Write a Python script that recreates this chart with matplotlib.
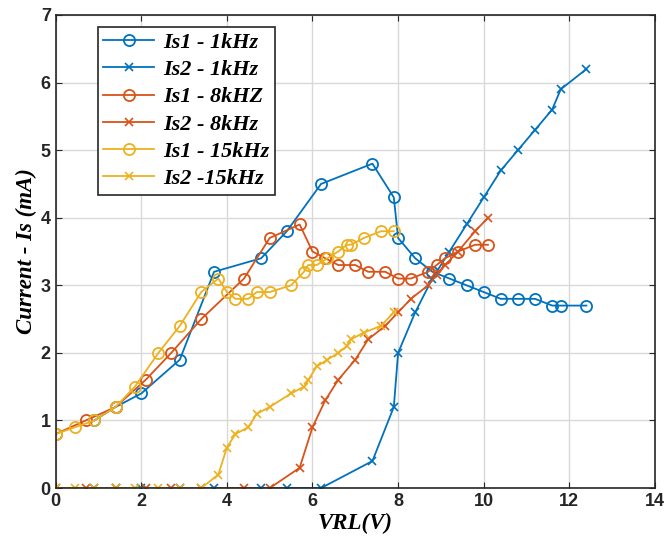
import matplotlib
matplotlib.use('Agg')
import matplotlib.pyplot as plt

x_1k = [0.9, 1.4, 2.0, 2.9, 3.7, 4.8, 5.4, 6.2, 7.4, 7.9, 8.0, 8.4, 8.8, 9.2,
        9.6, 10.0, 10.4, 10.8, 11.2, 11.6, 11.8, 12.4]
is1_1k = [1.0, 1.2, 1.4, 1.9, 3.2, 3.4, 3.8, 4.5, 4.8, 4.3, 3.7, 3.4, 3.2, 3.1,
          3.0, 2.9, 2.8, 2.8, 2.8, 2.7, 2.7, 2.7]
is2_1k = [0, 0, 0, 0, 0, 0, 0, 0, 0.4, 1.2, 2.0, 2.6, 3.1, 3.5,
          3.9, 4.3, 4.7, 5.0, 5.3, 5.6, 5.9, 6.2]

x_8k = [0, 0.7, 1.4, 2.1, 2.7, 3.4, 4.4, 5.0, 5.7, 6.0, 6.3, 6.6, 7.0, 7.3,
        7.7, 8.0, 8.3, 8.7, 8.9, 9.1, 9.4, 9.8, 10.1]
is1_8k = [0.8, 1.0, 1.2, 1.6, 2.0, 2.5, 3.1, 3.7, 3.9, 3.5, 3.4, 3.3, 3.3, 3.2,
          3.2, 3.1, 3.1, 3.2, 3.3, 3.4, 3.5, 3.6, 3.6]
is2_8k = [0, 0, 0, 0, 0, 0, 0, 0, 0.3, 0.9, 1.3, 1.6, 1.9, 2.2,
          2.4, 2.6, 2.8, 3.0, 3.15, 3.3, 3.5, 3.8, 4.0]

x_15k = [0, 0.45, 0.9, 1.4, 1.85, 2.4, 2.9, 3.4, 3.8, 4.0, 4.2, 4.5, 4.7, 5.0,
         5.5, 5.8, 5.9, 6.1, 6.35, 6.6, 6.8, 6.9, 7.2, 7.6, 7.9]
is1_15k = [0.8, 0.9, 1.0, 1.2, 1.5, 2.0, 2.4, 2.9, 3.1, 2.9, 2.8, 2.8, 2.9, 2.9,
           3.0, 3.2, 3.3, 3.3, 3.4, 3.5, 3.6, 3.6, 3.7, 3.8, 3.8]
is2_15k = [0, 0, 0, 0, 0, 0, 0, 0, 0.2, 0.6, 0.8, 0.9, 1.1, 1.2,
           1.4, 1.5, 1.6, 1.8, 1.9, 2.0, 2.1, 2.2, 2.3, 2.4, 2.6]

labels = ['Is1 - 1kHz', 'Is2 - 1kHz', 'Is1 - 8kHZ', 'Is2 - 8kHz',
          'Is1 - 15kHz', 'Is2 -15kHz']
colors = ['#0072BD', '#D95319', '#EDB120']

fig = plt.figure(figsize=(6.71, 5.54), dpi=100)
ax = fig.add_axes([0.083, 0.119, 0.893, 0.854])

series = [(x_1k, is1_1k, is2_1k), (x_8k, is1_8k, is2_8k), (x_15k, is1_15k, is2_15k)]
for i, (xs, s1, s2) in enumerate(series):
    c = colors[i]
    ax.plot(xs, s1, color=c, lw=1.3, marker='o', ms=8, mfc='none', mew=1.3,
            label=labels[2 * i])
    ax.plot(xs, s2, color=c, lw=1.3, marker='x', ms=6, mew=1.2,
            label=labels[2 * i + 1])

ax.set_xlim(0, 14)
ax.set_ylim(0, 7)
ax.set_xticks(range(0, 15, 2))
ax.set_yticks(range(0, 8))
ax.grid(True, color='#d9d9d9', lw=1)
ax.set_axisbelow(True)
ax.tick_params(direction='in', top=True, right=True, length=4, colors='#262626',
               labelsize=13)
for lab in ax.get_xticklabels() + ax.get_yticklabels():
    lab.set_fontweight('bold')
    lab.set_fontfamily('Liberation Sans')
for sp in ax.spines.values():
    sp.set_color('#262626')
    sp.set_linewidth(1.2)

lbl_font = dict(family='Liberation Serif', style='italic', weight='bold', size=16.5)
ax.set_xlabel('VRL(V)', labelpad=2, **lbl_font)
ax.set_ylabel('Current - Is (mA)', labelpad=3, **lbl_font)

leg = ax.legend(loc='upper left', bbox_to_anchor=(0.07, 0.975), borderaxespad=0,
                handlelength=2.3, handletextpad=0.4, frameon=True, fancybox=False,
                framealpha=1, edgecolor='#262626', borderpad=0.25, labelspacing=0.3,
                prop=dict(family='Liberation Serif', style='italic', weight='bold', size=16))
leg.get_frame().set_linewidth(1.2)

fig.savefig('out.png', dpi=100)
